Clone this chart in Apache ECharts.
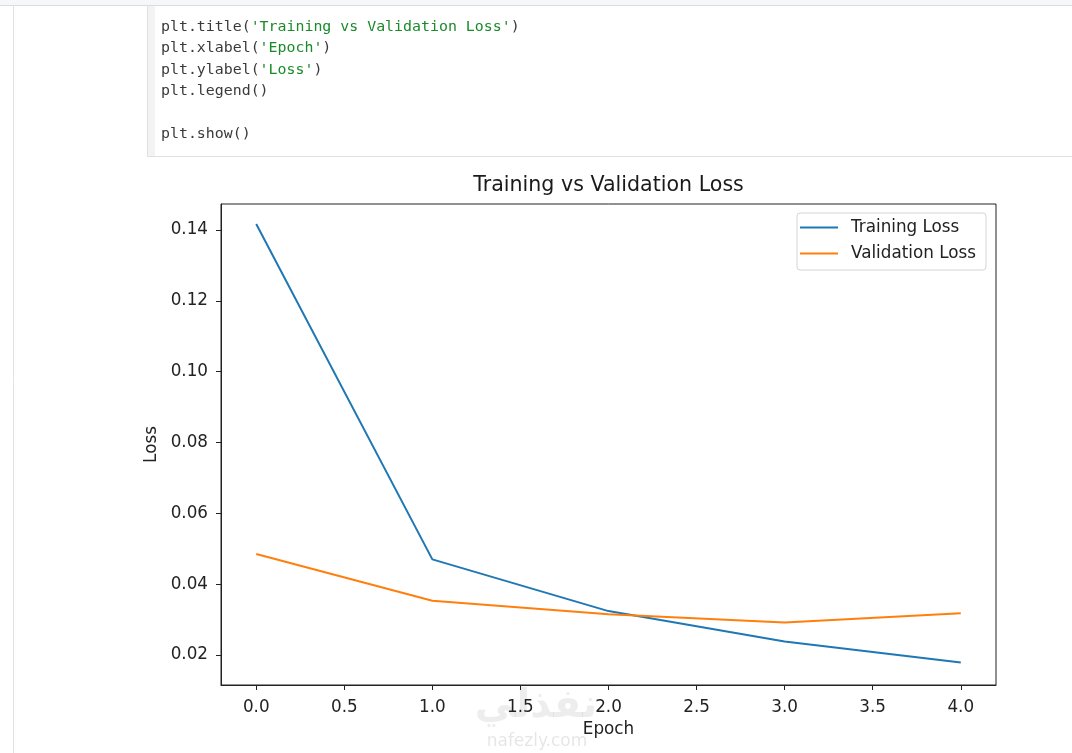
<!DOCTYPE html>
<html><head><meta charset="utf-8">
<script src="https://cdn.jsdelivr.net/npm/echarts@6/dist/echarts.min.js"></script>
<style>html,body{margin:0;padding:0;background:#fff;}#c{width:1072px;height:753px;}</style>
</head><body><div id="c"></div>
<script>
// ---- data ----
const epochs = [0, 1, 2, 3, 4];
const trainingLoss = [0.1417, 0.0470, 0.0324, 0.0238, 0.0179];
const validationLoss = [0.0485, 0.0353, 0.0315, 0.0292, 0.0318];
const xTicks = [0, 0.5, 1, 1.5, 2, 2.5, 3, 3.5, 4];
const yTicks = [0.02, 0.04, 0.06, 0.08, 0.10, 0.12, 0.14];
const seriesNames = ['Training Loss', 'Validation Loss'];
const titleText = 'Training vs Validation Loss';
const xName = 'Epoch';
const yName = 'Loss';
// code cell lines: [plain prefix, string literal, plain suffix]
const codeLines = [
  ["plt.title(", "'Training vs Validation Loss'", ")"],
  ["plt.xlabel(", "'Epoch'", ")"],
  ["plt.ylabel(", "'Loss'", ")"],
  ["plt.legend()", "", ""],
  ["", "", ""],
  ["plt.show()", "", ""]
];
const watermarkAr = 'نفذلي';
const watermarkEn = 'nafezly.com';

// ---- chart ----
const FONT = 'DejaVu Sans';
const MONO = 'DejaVu Sans Mono';
const chart = echarts.init(document.getElementById('c'), null, {renderer: 'canvas'});

function esc(s){ return s.replace(/[{}|]/g, ''); }
const codeGraphics = codeLines.map((ln, i) => {
  let txt = '';
  if (ln[0]) txt += '{k|' + esc(ln[0]) + '}';
  if (ln[1]) txt += '{s|' + esc(ln[1]) + '}';
  if (ln[2]) txt += '{k|' + esc(ln[2]) + '}';
  return {
    type: 'text', left: 161, top: 19.5 + i * 21.4,
    style: {
      text: txt || ' ',
      rich: {
        k: {fontFamily: MONO, fontSize: 14.9, fill: '#3a3a3a', lineHeight: 18},
        s: {fontFamily: MONO, fontSize: 14.9, fill: '#1a8a2a', lineHeight: 18}
      }
    }
  };
});

const option = {
  animation: false,
  backgroundColor: '#ffffff',
  title: {
    text: titleText,
    left: 608.5, top: 175, textAlign: 'center', padding: 0,
    textStyle: {fontFamily: FONT, fontSize: 20.6, fontWeight: 'normal', color: '#1a1a1a'}
  },
  legend: {
    data: seriesNames,
    orient: 'vertical',
    left: 797, top: 213,
    icon: 'rect', itemWidth: 38, itemHeight: 2, itemGap: 9,
    padding: [6, 10, 8, 3],
    backgroundColor: 'rgba(255,255,255,0.8)',
    borderColor: '#d4d4d4', borderWidth: 1, borderRadius: 3,
    textStyle: {fontFamily: FONT, fontSize: 16.8, color: '#222', padding: [0, 0, 0, 8]}
  },
  grid: {
    left: 221, top: 204, width: 775, height: 481,
    show: true, borderColor: '#222', borderWidth: 1, backgroundColor: 'transparent'
  },
  xAxis: {
    type: 'value', min: -0.2, max: 4.2,
    name: xName, nameLocation: 'middle', nameGap: 36,
    nameTextStyle: {fontFamily: FONT, fontSize: 16.8, color: '#222'},
    axisLine: {show: true, onZero: false, lineStyle: {color: '#222', width: 1}},
    axisTick: {show: true, length: 5, customValues: xTicks, lineStyle: {color: '#222'}},
    axisLabel: {customValues: xTicks, margin: 14, fontFamily: FONT, fontSize: 16.8, color: '#222',
      formatter: v => Number(v).toFixed(1)},
    splitLine: {show: false}
  },
  yAxis: {
    type: 'value', min: 0.01154, max: 0.14733,
    name: yName, nameLocation: 'middle', nameGap: 55, nameRotate: 90,
    nameTextStyle: {fontFamily: FONT, fontSize: 16.8, color: '#222'},
    axisLine: {show: true, onZero: false, lineStyle: {color: '#222', width: 1}},
    axisTick: {show: true, length: 5, customValues: yTicks, lineStyle: {color: '#222'}},
    axisLabel: {customValues: yTicks, margin: 13, fontFamily: FONT, fontSize: 16.8, color: '#222',
      padding: [3, 0, 0, 0],
      formatter: v => Number(v).toFixed(2)},
    splitLine: {show: false}
  },
  series: [
    {name: seriesNames[0], type: 'line', symbol: 'none',
     data: epochs.map((e, i) => [e, trainingLoss[i]]),
     lineStyle: {color: '#1f77b4', width: 2}, itemStyle: {color: '#1f77b4'}},
    {name: seriesNames[1], type: 'line', symbol: 'none',
     data: epochs.map((e, i) => [e, validationLoss[i]]),
     lineStyle: {color: '#ff7f0e', width: 2}, itemStyle: {color: '#ff7f0e'}}
  ],
  graphic: [
    {type: 'rect', shape: {x: 0, y: 0, width: 1072, height: 5}, style: {fill: '#f6f7fb'}, silent: true},
    {type: 'line', shape: {x1: 0, y1: 5.5, x2: 1072, y2: 5.5}, style: {stroke: '#dcdcdc', lineWidth: 1}, silent: true},
    {type: 'line', shape: {x1: 13.5, y1: 6, x2: 13.5, y2: 753}, style: {stroke: '#e2e2e2', lineWidth: 1}, silent: true},
    {type: 'rect', shape: {x: 148, y: 6, width: 7, height: 150}, style: {fill: '#f3f3f3'}, silent: true},
    {type: 'line', shape: {x1: 147.5, y1: 6, x2: 147.5, y2: 157}, style: {stroke: '#e0e0e0', lineWidth: 1}, silent: true},
    {type: 'line', shape: {x1: 147, y1: 156.5, x2: 1072, y2: 156.5}, style: {stroke: '#e0e0e0', lineWidth: 1}, silent: true},
    ...codeGraphics,
    {type: 'text', x: 536, y: 707, z: -1, silent: true,
     style: {text: watermarkAr, fontFamily: FONT, fontWeight: 'bold', fontSize: 40,
             fill: 'rgba(0,0,0,0.07)', align: 'center', verticalAlign: 'middle'}},
    {type: 'text', x: 537, y: 742, z: -1, silent: true,
     style: {text: watermarkEn, fontFamily: FONT, fontSize: 17,
             fill: 'rgba(0,0,0,0.10)', align: 'center', verticalAlign: 'middle'}}
  ]
};
chart.setOption(option);
</script>
</body></html>
